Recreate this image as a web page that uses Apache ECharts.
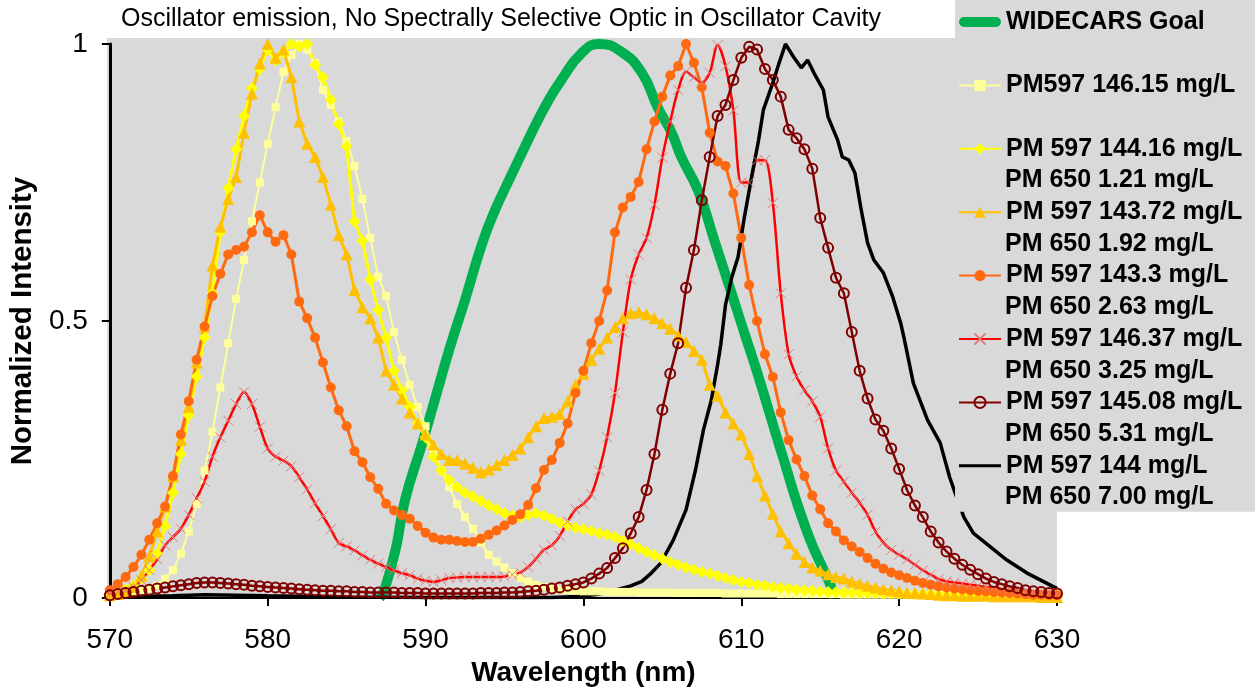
<!DOCTYPE html>
<html><head><meta charset="utf-8">
<script src="https://cdn.jsdelivr.net/npm/echarts@6/dist/echarts.min.js"></script>
<style>html,body{margin:0;padding:0;background:#fff}#c{width:1255px;height:693px}</style>
</head><body><div id="c"></div><script>
// ---- data: [wavelength nm, normalized intensity] ----
const titleText = 'Oscillator emission, No Spectrally Selective Optic in Oscillator Cavity';
const xTicks = [570, 580, 590, 600, 610, 620, 630];
const legendFirst = ['WIDECARS Goal','PM597 146.15 mg/L','PM 597 144.16 mg/L','PM 597 143.72 mg/L','PM 597 143.3 mg/L','PM 597 146.37 mg/L','PM 597 145.08 mg/L','PM 597 144 mg/L'];
const legendSecond = ['','','PM 650 1.21 mg/L','PM 650 1.92 mg/L','PM 650 2.63 mg/L','PM 650 3.25 mg/L','PM 650 5.31 mg/L','PM 650 7.00 mg/L'];

const goal = [[587.1,0],[587.4,0.015],[588.1,0.087],[588.7,0.177],[589.8,0.28],[590.4,0.339],[591.5,0.448],[592.5,0.538],[593.6,0.641],[594.4,0.7],[595.3,0.755],[596.1,0.803],[596.9,0.85],[597.8,0.899],[598.6,0.935],[599.9,0.984],[601,1.0],[602.4,0.986],[603.7,0.948],[604.7,0.886],[605.6,0.839],[606.2,0.796],[607.3,0.733],[608.3,0.645],[609.4,0.549],[610.2,0.478],[611.1,0.399],[612.5,0.267],[614.2,0.117],[615.7,0.02],[615.9,0]];

const pm146_15 = [[570,0.005],[570.5,0.007],[571,0.009],[571.5,0.012],[572,0.015],[572.5,0.018],[573,0.022],[573.5,0.035],[574,0.05],[574.5,0.08],[575,0.12],[575.5,0.17],[576,0.23],[576.5,0.3],[577,0.38],[577.5,0.46],[578,0.54],[578.5,0.61],[579,0.68],[579.5,0.75],[580,0.82],[580.5,0.886],[581,0.95],[581.5,0.98],[582,1.0],[582.5,0.99],[583,0.966],[583.5,0.917],[584,0.89],[584.5,0.86],[585,0.825],[585.5,0.78],[586,0.72],[586.5,0.65],[587,0.58],[587.5,0.545],[588,0.48],[588.5,0.43],[589,0.385],[589.5,0.345],[590,0.31],[590.5,0.27],[591,0.23],[591.5,0.2],[592,0.17],[592.5,0.146],[593,0.125],[593.5,0.1],[594,0.078],[594.5,0.066],[595,0.055],[595.5,0.045],[596,0.036],[596.5,0.03],[597,0.024],[597.5,0.02],[598,0.017],[598.5,0.015],[599,0.014],[599.5,0.013],[600,0.012],[600.5,0.012],[601,0.012],[601.5,0.011],[602,0.011],[602.5,0.011],[603,0.011],[603.5,0.01],[604,0.01],[604.5,0.01],[605,0.01],[605.5,0.01],[606,0.009],[606.5,0.009],[607,0.009],[607.5,0.009],[608,0.009],[608.5,0.009],[609,0.008],[609.5,0.008],[610,0.008],[610.5,0.008],[611,0.008],[611.5,0.008],[612,0.008],[612.5,0.007],[613,0.007],[613.5,0.007],[614,0.007],[614.5,0.007],[615,0.007],[615.5,0.007],[616,0.007],[616.5,0.006],[617,0.006],[617.5,0.006],[618,0.006],[618.5,0.006],[619,0.006],[619.5,0.006],[620,0.006],[620.5,0.006],[621,0.005],[621.5,0.005],[622,0.005],[622.5,0.005],[623,0.005],[623.5,0.005],[624,0.005],[624.5,0.005],[625,0.005],[625.5,0.005],[626,0.005],[626.5,0.005],[627,0.005],[627.5,0.005],[628,0.005],[628.5,0.005],[629,0.005],[629.5,0.005],[630,0.005]];

const pm144_16 = [[570,0.005],[570.5,0.01],[571,0.015],[571.5,0.022],[572,0.035],[572.5,0.05],[573,0.08],[573.5,0.13],[574,0.19],[574.5,0.26],[575,0.33],[575.5,0.4],[576,0.47],[576.5,0.55],[577,0.66],[577.5,0.74],[578,0.81],[578.5,0.87],[579,0.92],[579.5,0.955],[580,0.99],[580.5,0.97],[581,0.985],[581.5,1.0],[582,0.995],[582.5,1.0],[583,0.962],[583.5,0.94],[584,0.9],[584.5,0.855],[585,0.815],[585.5,0.68],[586,0.645],[586.5,0.575],[587,0.52],[587.5,0.47],[588,0.41],[588.5,0.375],[589,0.345],[589.5,0.315],[590,0.29],[590.5,0.255],[591,0.23],[591.5,0.213],[592,0.2],[592.5,0.19],[593,0.183],[593.5,0.175],[594,0.167],[594.5,0.16],[595,0.153],[595.5,0.149],[596,0.146],[596.5,0.15],[597,0.153],[597.5,0.149],[598,0.143],[598.5,0.136],[599,0.131],[599.5,0.127],[600,0.124],[600.5,0.121],[601,0.117],[601.5,0.114],[602,0.11],[602.5,0.103],[603,0.097],[603.5,0.09],[604,0.083],[604.5,0.077],[605,0.071],[605.5,0.065],[606,0.06],[606.5,0.055],[607,0.051],[607.5,0.047],[608,0.044],[608.5,0.04],[609,0.036],[609.5,0.032],[610,0.029],[610.5,0.027],[611,0.024],[611.5,0.022],[612,0.02],[612.5,0.018],[613,0.017],[613.5,0.015],[614,0.014],[614.5,0.013],[615,0.012],[615.5,0.011],[616,0.011],[616.5,0.01],[617,0.01],[617.5,0.009],[618,0.009],[618.5,0.009],[619,0.008],[619.5,0.008],[620,0.008],[620.5,0.007],[621,0.007],[621.5,0.007],[622,0.007],[622.5,0.006],[623,0.006],[623.5,0.006],[624,0.006],[624.5,0.006],[625,0.005],[625.5,0.005],[626,0.005],[626.5,0.005],[627,0.005],[627.5,0.005],[628,0.005],[628.5,0.004],[629,0.004],[629.5,0.004],[630,0.004]];

const pm143_72 = [[570,0.005],[570.5,0.007],[571,0.012],[571.5,0.02],[572,0.04],[572.5,0.075],[573,0.12],[573.5,0.165],[574,0.22],[574.5,0.285],[575,0.345],[575.5,0.425],[576,0.49],[576.5,0.6],[577,0.67],[577.5,0.72],[578,0.76],[578.5,0.84],[579,0.91],[579.5,0.965],[580,1.0],[580.5,0.975],[581,0.99],[581.5,0.94],[582,0.86],[582.5,0.82],[583,0.796],[583.5,0.76],[584,0.71],[584.5,0.655],[585,0.62],[585.5,0.556],[586,0.525],[586.5,0.505],[587,0.47],[587.5,0.41],[588,0.385],[588.5,0.36],[589,0.335],[589.5,0.315],[590,0.295],[590.5,0.277],[591,0.26],[591.5,0.249],[592,0.249],[592.5,0.243],[593,0.235],[593.5,0.227],[594,0.232],[594.5,0.24],[595,0.249],[595.5,0.258],[596,0.27],[596.5,0.29],[597,0.31],[597.5,0.325],[598,0.327],[598.5,0.332],[599,0.355],[599.5,0.385],[600,0.405],[600.5,0.43],[601,0.45],[601.5,0.47],[602,0.489],[602.5,0.505],[603,0.514],[603.5,0.516],[604,0.512],[604.5,0.505],[605,0.496],[605.5,0.486],[606,0.474],[606.5,0.462],[607,0.446],[607.5,0.43],[608,0.385],[608.5,0.365],[609,0.335],[609.5,0.315],[610,0.295],[610.5,0.26],[611,0.22],[611.5,0.185],[612,0.152],[612.5,0.12],[613,0.099],[613.5,0.08],[614,0.065],[614.5,0.055],[615,0.049],[615.5,0.043],[616,0.038],[616.5,0.035],[617,0.03],[617.5,0.026],[618,0.022],[618.5,0.019],[619,0.016],[619.5,0.014],[620,0.012],[620.5,0.01],[621,0.009],[621.5,0.008],[622,0.007],[622.5,0.006],[623,0.005],[623.5,0.005],[624,0.004],[624.5,0.004],[625,0.004],[625.5,0.004],[626,0.003],[626.5,0.003],[627,0.003],[627.5,0.003],[628,0.003],[628.5,0.003],[629,0.002],[629.5,0.002],[630,0.002]];

const pm143_3 = [[570,0.014],[570.5,0.025],[571,0.038],[571.5,0.056],[572,0.078],[572.5,0.105],[573,0.135],[573.5,0.165],[574,0.22],[574.5,0.295],[575,0.355],[575.5,0.43],[576,0.49],[576.5,0.545],[577,0.585],[577.5,0.62],[578,0.628],[578.5,0.634],[579,0.66],[579.5,0.691],[580,0.66],[580.5,0.643],[581,0.655],[581.5,0.62],[582,0.535],[582.5,0.505],[583,0.47],[583.5,0.425],[584,0.38],[584.5,0.339],[585,0.31],[585.5,0.265],[586,0.245],[586.5,0.218],[587,0.197],[587.5,0.17],[588,0.158],[588.5,0.15],[589,0.143],[589.5,0.13],[590,0.118],[590.5,0.109],[591,0.105],[591.5,0.105],[592,0.103],[592.5,0.101],[593,0.101],[593.5,0.107],[594,0.114],[594.5,0.122],[595,0.131],[595.5,0.141],[596,0.151],[596.5,0.168],[597,0.198],[597.5,0.231],[598,0.249],[598.5,0.28],[599,0.315],[599.5,0.37],[600,0.41],[600.5,0.46],[601,0.5],[601.5,0.555],[602,0.66],[602.5,0.705],[603,0.724],[603.5,0.751],[604,0.81],[604.5,0.86],[605,0.905],[605.5,0.943],[606,0.96],[606.5,1.0],[607,0.966],[607.5,0.922],[608,0.84],[608.5,0.788],[609,0.78],[609.5,0.73],[610,0.65],[610.5,0.565],[611,0.5],[611.5,0.44],[612,0.399],[612.5,0.335],[613,0.285],[613.5,0.25],[614,0.22],[614.5,0.185],[615,0.16],[615.5,0.135],[616,0.12],[616.5,0.104],[617,0.093],[617.5,0.083],[618,0.072],[618.5,0.062],[619,0.053],[619.5,0.046],[620,0.041],[620.5,0.036],[621,0.031],[621.5,0.027],[622,0.024],[622.5,0.021],[623,0.019],[623.5,0.017],[624,0.016],[624.5,0.014],[625,0.013],[625.5,0.012],[626,0.011],[626.5,0.01],[627,0.009],[627.5,0.008],[628,0.007],[628.5,0.006],[629,0.006],[629.5,0.005],[630,0.005]];

const pm146_37 = [[570,0.008],[570.5,0.01],[571,0.014],[571.5,0.02],[572,0.032],[572.5,0.05],[573,0.07],[573.5,0.095],[574,0.11],[574.5,0.125],[575,0.15],[575.5,0.18],[576,0.21],[576.5,0.255],[577,0.29],[577.5,0.32],[578,0.35],[578.5,0.372],[579,0.35],[579.5,0.309],[580,0.27],[580.5,0.255],[581,0.248],[581.5,0.238],[582,0.218],[582.5,0.196],[583,0.171],[583.5,0.148],[584,0.124],[584.5,0.099],[585,0.093],[585.5,0.086],[586,0.077],[586.5,0.069],[587,0.062],[587.5,0.056],[588,0.05],[588.5,0.045],[589,0.041],[589.5,0.035],[590,0.031],[590.5,0.029],[591,0.032],[591.5,0.036],[592,0.037],[592.5,0.038],[593,0.038],[593.5,0.038],[594,0.038],[594.5,0.038],[595,0.039],[595.5,0.042],[596,0.046],[596.5,0.056],[597,0.071],[597.5,0.087],[598,0.095],[598.5,0.112],[599,0.138],[599.5,0.16],[600,0.17],[600.5,0.187],[601,0.23],[601.5,0.29],[602,0.37],[602.5,0.48],[603,0.575],[603.5,0.62],[604,0.65],[604.5,0.71],[605,0.795],[605.5,0.86],[606,0.917],[606.5,0.95],[607,0.94],[607.5,0.93],[608,0.948],[608.5,0.998],[609,0.96],[609.5,0.88],[610,0.75],[610.5,0.75],[611,0.79],[611.5,0.79],[612,0.713],[612.5,0.55],[613,0.44],[613.5,0.4],[614,0.375],[614.5,0.355],[615,0.327],[615.5,0.27],[616,0.23],[616.5,0.21],[617,0.19],[617.5,0.172],[618,0.15],[618.5,0.12],[619,0.1],[619.5,0.087],[620,0.078],[620.5,0.07],[621,0.06],[621.5,0.05],[622,0.042],[622.5,0.034],[623,0.03],[623.5,0.028],[624,0.026],[624.5,0.024],[625,0.022],[625.5,0.02],[626,0.018],[626.5,0.016],[627,0.014],[627.5,0.013],[628,0.012],[628.5,0.011],[629,0.01],[629.5,0.009],[630,0.008]];

const pm145_08 = [[570,0.005],[570.5,0.007],[571,0.009],[571.5,0.011],[572,0.013],[572.5,0.015],[573,0.017],[573.5,0.019],[574,0.021],[574.5,0.023],[575,0.025],[575.5,0.027],[576,0.028],[576.5,0.028],[577,0.027],[577.5,0.026],[578,0.025],[578.5,0.024],[579,0.022],[579.5,0.021],[580,0.02],[580.5,0.019],[581,0.018],[581.5,0.017],[582,0.016],[582.5,0.015],[583,0.014],[583.5,0.013],[584,0.013],[584.5,0.012],[585,0.012],[585.5,0.011],[586,0.011],[586.5,0.01],[587,0.01],[587.5,0.01],[588,0.01],[588.5,0.009],[589,0.009],[589.5,0.009],[590,0.008],[590.5,0.008],[591,0.008],[591.5,0.008],[592,0.008],[592.5,0.008],[593,0.008],[593.5,0.009],[594,0.009],[594.5,0.009],[595,0.01],[595.5,0.01],[596,0.011],[596.5,0.012],[597,0.013],[597.5,0.015],[598,0.017],[598.5,0.019],[599,0.022],[599.5,0.025],[600,0.028],[600.5,0.035],[601,0.044],[601.5,0.054],[602,0.072],[602.5,0.09],[603,0.117],[603.5,0.146],[604,0.195],[604.5,0.26],[605,0.34],[605.5,0.405],[606,0.46],[606.5,0.56],[607,0.628],[607.5,0.718],[608,0.796],[608.5,0.87],[609,0.89],[609.5,0.935],[610,0.975],[610.5,0.995],[611,0.99],[611.5,0.955],[612,0.935],[612.5,0.905],[613,0.845],[613.5,0.83],[614,0.81],[614.5,0.775],[615,0.686],[615.5,0.632],[616,0.578],[616.5,0.55],[617,0.48],[617.5,0.41],[618,0.36],[618.5,0.322],[619,0.302],[619.5,0.27],[620,0.233],[620.5,0.195],[621,0.167],[621.5,0.146],[622,0.12],[622.5,0.1],[623,0.084],[623.5,0.071],[624,0.06],[624.5,0.051],[625,0.043],[625.5,0.035],[626,0.029],[626.5,0.025],[627,0.021],[627.5,0.018],[628,0.014],[628.5,0.012],[629,0.011],[629.5,0.009],[630,0.008]];

const pm144 = [[570,0.002],[572,0.003],[574,0.004],[576,0.006],[578,0.005],[580,0.004],[585,0.002],[590,0.001],[595,0.001],[598,0.001],[600,0.003],[601,0.007],[602,0.014],[603,0.022],[603.7,0.03],[604.3,0.045],[604.9,0.063],[605.7,0.105],[606.5,0.159],[607.1,0.231],[607.6,0.303],[608.1,0.357],[608.5,0.421],[608.7,0.457],[609,0.529],[609.4,0.579],[609.8,0.616],[610.2,0.688],[610.7,0.767],[611.1,0.827],[611.4,0.881],[612,0.93],[612.4,0.966],[612.8,1.0],[613.3,0.977],[613.8,0.957],[614.2,0.971],[614.6,0.948],[615.2,0.917],[615.5,0.868],[616.1,0.827],[616.4,0.796],[616.8,0.791],[617.2,0.767],[617.6,0.7],[618,0.641],[618.4,0.61],[619,0.587],[619.6,0.543],[620.1,0.496],[620.3,0.471],[620.9,0.388],[621.8,0.321],[622.6,0.28],[623.2,0.218],[623.7,0.177],[624.1,0.146],[624.7,0.117],[625.8,0.092],[626.8,0.069],[628.1,0.045],[629.8,0.02],[630,0.018]];

// ---- styling ----
const SANS = '"Liberation Sans", Arial, sans-serif';
const XPATH = 'path://M0,0L10,10M10,0L0,10';

function lineSeries(name, data, o) {
  return {
    type: 'line', name: name, data: data, animation: false,
    smooth: o.smooth || false,
    symbol: o.symbol || 'none', symbolSize: o.size || 0,
    showSymbol: !!o.symbol,
    lineStyle: { color: o.color, width: o.width },
    itemStyle: { color: o.fill || o.color, borderColor: o.border || o.color, borderWidth: o.bw || 0 },
    emphasis: { disabled: true },
    z: o.z || 2
  };
}

const series = [
  lineSeries(legendFirst[0], goal, { color: '#00b050', width: 10, smooth: true }),
  lineSeries(legendFirst[1], pm146_15, { color: '#ffff99', width: 2, symbol: 'rect', size: 8 }),
  lineSeries(legendFirst[2], pm144_16, { color: '#ffff00', width: 3, symbol: 'diamond', size: 12 }),
  lineSeries(legendFirst[3], pm143_72, { color: '#ffc000', width: 3, symbol: 'triangle', size: 12 }),
  lineSeries(legendFirst[4], pm143_3, { color: '#ff6a10', width: 3, symbol: 'circle', size: 10 }),
  lineSeries(legendFirst[5], pm146_37, { color: '#ff0000', width: 2.5, symbol: XPATH, size: 10, fill: 'rgba(0,0,0,0)', border: '#e07a7a', bw: 1, smooth: 0.3 }),
  lineSeries(legendFirst[6], pm145_08, { color: '#800000', width: 2.5, symbol: 'circle', size: 10, fill: 'rgba(0,0,0,0)', border: '#800000', bw: 2 }),
  lineSeries(legendFirst[7], pm144, { color: '#000000', width: 3.5 })
];

const legendData = legendFirst.map(function (n, i) {
  if (i === 0) return { name: n, icon: 'path://M5,0H37A5,5 0 0 1 37,10H5A5,5 0 0 1 5,0Z' };
  if (i === 7) return { name: n, icon: 'path://M0,0H42V3H0Z' };
  return { name: n };
});

const firstCenter = 22, itemStep = 63.4, lineStep = 31.7;
const graphics = [
  { type: 'rect', shape: { x: 107, y: 38, width: 950, height: 560 }, style: { fill: '#d9d9d9' }, z: -10, silent: true }
];
legendSecond.forEach(function (t, i) {
  if (!t) return;
  graphics.push({
    type: 'text', x: 1005, y: firstCenter + i * itemStep + lineStep, z: 100, silent: true,
    style: { text: t, fontFamily: SANS, fontSize: 25, fontWeight: 'bold', fill: '#000', verticalAlign: 'middle', align: 'left' }
  });
});

const chart = echarts.init(document.getElementById('c'));
chart.setOption({
  animation: false,
  backgroundColor: '#ffffff',
  title: {
    text: titleText, left: 121, top: 7, padding: 0,
    textStyle: { fontFamily: SANS, fontSize: 25, fontWeight: 'normal', color: '#000' }
  },
  grid: { left: 107, right: 198, top: 44, bottom: 95, containLabel: false },
  xAxis: {
    type: 'value', min: xTicks[0], max: xTicks[xTicks.length - 1], interval: 10,
    name: 'Wavelength (nm)', nameLocation: 'middle', nameGap: 56,
    nameTextStyle: { fontFamily: SANS, fontSize: 28, fontWeight: 'bold', color: '#000' },
    axisLine: { onZero: false, lineStyle: { color: '#000', width: 2 } },
    axisTick: { show: true, inside: false, length: 8, lineStyle: { color: '#000', width: 2 } },
    axisLabel: { fontFamily: SANS, fontSize: 28, color: '#000', margin: 28 },
    splitLine: { show: false }
  },
  yAxis: {
    type: 'value', min: 0, max: 1, interval: 0.5,
    name: 'Normalized Intensity', nameLocation: 'middle', nameGap: 64, nameRotate: 90,
    nameTextStyle: { fontFamily: SANS, fontSize: 29.5, fontWeight: 'bold', color: '#000' },
    axisLine: { show: true, onZero: false, lineStyle: { color: '#000', width: 3 } },
    axisTick: { show: true, inside: false, length: 8, lineStyle: { color: '#000', width: 2 } },
    axisLabel: { fontFamily: SANS, fontSize: 28, color: '#000', margin: 22 },
    splitLine: { show: false }
  },
  legend: {
    orient: 'vertical', left: 955, top: 0, padding: [7, 80, 31, 3],
    itemGap: itemStep - 30, itemWidth: 42, itemHeight: 14,
    backgroundColor: '#d9d9d9', selectedMode: false, symbolKeepAspect: true,
    textStyle: { fontFamily: SANS, fontSize: 25, fontWeight: 'bold', color: '#000', lineHeight: 30 },
    data: legendData
  },
  graphic: graphics,
  series: series
});
</script></body></html>
